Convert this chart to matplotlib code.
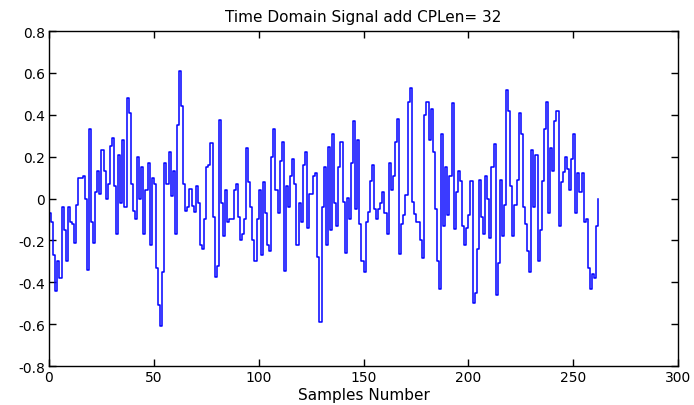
import numpy as np
import matplotlib
matplotlib.use('Agg')
import matplotlib.pyplot as plt
from matplotlib.ticker import FuncFormatter

# time domain OFDM symbol with cyclic prefix, levels
seg1 = [-0.07, -0.11, -0.27, -0.44, -0.30, -0.38, -0.04, -0.15, -0.30, -0.04,
        -0.11, -0.12, -0.21, -0.03, 0.10, 0.10, 0.11, 0.00, -0.34, 0.33,
        -0.11, -0.21, 0.03, 0.13, 0.02, 0.23, 0.13, 0.00, 0.07, 0.25,
        0.29, 0.06, -0.17, 0.21]
seg2 = [-0.02, 0.28, -0.04, 0.48, 0.41, 0.07, -0.06, -0.10, 0.20, 0.00,
        0.15, -0.17, 0.04, 0.17, -0.22, 0.10, 0.07, -0.33, -0.51, -0.61,
        -0.35, 0.17, 0.07, 0.22, 0.01, 0.13, -0.17, 0.35, 0.61, 0.44,
        0.07, -0.06, -0.04]
seg3 = [0.045, -0.035, -0.065, 0.06, -0.02, -0.22, -0.24, -0.10, 0.15, 0.16,
        0.265, -0.09, -0.375, -0.32, 0.375, -0.02, -0.18, 0.04, -0.11, -0.10,
        -0.10, 0.04, 0.07, -0.09, -0.20, -0.17, -0.10, 0.24, 0.08, -0.04,
        -0.20, -0.30, -0.10, 0.04]
seg4 = [-0.27, 0.08, -0.07, -0.22, -0.25, 0.20, 0.33, 0.04, -0.07, 0.18,
        0.27, -0.345, 0.06, -0.04, 0.11, 0.19, 0.07, -0.22, -0.02, -0.11,
        0.16, 0.22, -0.14, 0.02, 0.02, 0.11, 0.12, -0.28, -0.59, -0.04,
        0.15, -0.22, 0.245]
seg5 = [-0.15, 0.31, -0.02, -0.13, 0.15, 0.27, -0.015, -0.26, 0.005, -0.10,
        0.17, 0.37, -0.05, 0.28, -0.12, -0.30, -0.35, -0.11, -0.065, 0.085,
        0.16, -0.05, -0.10, -0.05, -0.02, 0.03, -0.07, -0.17, 0.17, 0.04,
        0.11, 0.27]
seg6 = [0.38, -0.265, -0.12, -0.08, 0.015, 0.46, 0.53, -0.015, -0.075, -0.11,
        -0.11, -0.20, -0.285, 0.40, 0.46, 0.28, 0.43, 0.22, -0.05, -0.30,
        -0.43, 0.31, -0.13, 0.15, -0.08, 0.11, 0.455, -0.145, 0.03, 0.13,
        0.085, -0.13, -0.22, -0.14, -0.08, 0.085]
seg7 = [-0.50, -0.45, -0.24, 0.09, -0.09, -0.17, 0.11, 0.00, -0.19, 0.15,
        0.26, -0.46, -0.31, 0.09, -0.18, -0.03, 0.52, 0.42, 0.06, -0.18,
        -0.03, 0.09, 0.41, 0.31, -0.04, -0.12, -0.25, -0.35, 0.23, -0.04,
        0.21, -0.30]
seg8 = [-0.15, 0.085, 0.33, 0.46, -0.07, 0.24, 0.13, 0.37, 0.42, -0.13,
        0.08, 0.125, 0.20, 0.14, 0.04, 0.19, 0.31, -0.07, 0.12, 0.03,
        0.12, -0.11, -0.10, -0.33, -0.43, -0.36, -0.38, -0.13, 0.00]

signal = np.array(seg1 + seg2 + seg3 + seg4 + seg5 + seg6 + seg7 + seg8)
samples = np.arange(len(signal))

plt.rcParams['axes.unicode_minus'] = False
plt.rcParams['font.family'] = ['DejaVu Sans']

fig = plt.figure(figsize=(6.94, 4.06), dpi=100)
ax = fig.add_axes([0.0706, 0.096, 0.9064, 0.825])
ax.step(samples, signal, where='post', color='#0000ff', lw=1.1)

ax.set_xlim(0, 300)
ax.set_ylim(-0.8, 0.8)
ax.set_xticks(np.arange(0, 301, 50))
ax.set_yticks(np.arange(-0.8, 0.81, 0.2))
ax.yaxis.set_major_formatter(FuncFormatter(lambda v, p: '%g' % (round(v, 2) + 0.0)))
ax.tick_params(direction='in', top=True, right=True, length=5, width=1,
               labelsize=10, pad=3)
for s in ax.spines.values():
    s.set_linewidth(1.0)

ax.set_title('Time Domain Signal add CPLen= 32', fontsize=11, pad=7)
ax.set_xlabel('Samples Number', fontsize=11, labelpad=2)

fig.savefig('out.png', dpi=100)
